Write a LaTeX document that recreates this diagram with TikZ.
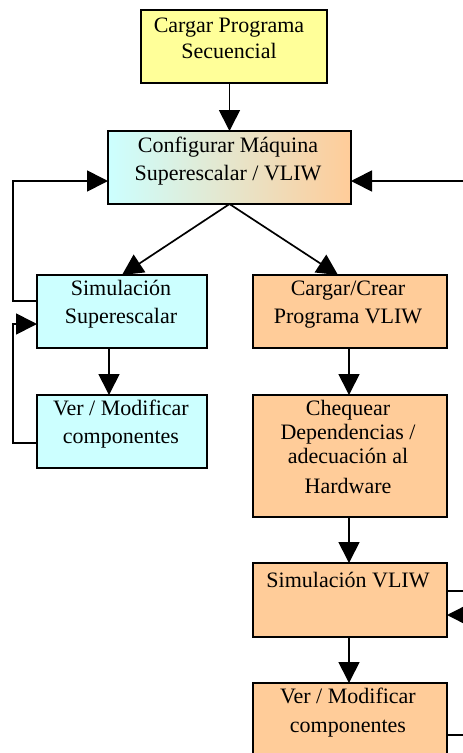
\documentclass[tikz,border=0pt]{standalone}
\usepackage{fontspec}
\setmainfont{Liberation Serif}
\usetikzlibrary{arrows.meta}
\definecolor{cyanbox}{HTML}{CCFFFF}
\definecolor{orangebox}{HTML}{FFCC99}
\definecolor{yellowbox}{HTML}{FFFF99}
\tikzset{
  boxbase/.style={draw=black, line width=1.9pt, inner sep=0pt, outer sep=0pt, rectangle},
  ybox/.style={boxbase, fill=yellowbox},
  cbox/.style={boxbase, fill=cyanbox},
  obox/.style={boxbase, fill=orangebox},
  gbox/.style={boxbase, left color=cyanbox, right color=orangebox},
  txt/.style={anchor=base, inner sep=0pt, font=\fontsize{22}{24}\selectfont},
  conn/.style={line width=1.7pt, -{Triangle[length=21pt,width=21pt]}},
  plain/.style={line width=1.7pt},
}
\begin{document}
\begin{tikzpicture}[x=1pt,y=-1pt]
\useasboundingbox (0,0) rectangle (463,753);
\clip (0,0) rectangle (463,753);
\fill[white] (0,0) rectangle (463,753);

% boxes
\node[ybox, minimum width=186pt, minimum height=73pt] (b1) at (234,46.5) {};
\node[gbox, minimum width=243pt, minimum height=73pt] (b2) at (229.5,167.5) {};
\node[cbox, minimum width=170pt, minimum height=73pt] (b3) at (122,311.5) {};
\node[cbox, minimum width=170pt, minimum height=73pt] (b4) at (122,431.5) {};
\node[obox, minimum width=194pt, minimum height=73pt] (b5) at (350,311.5) {};
\node[obox, minimum width=194pt, minimum height=122pt] (b6) at (350,456) {};
\node[obox, minimum width=194pt, minimum height=74pt] (b7) at (350,600) {};
\node[obox, minimum width=194pt, minimum height=87pt] (b8) at (350,726.5) {};

% texts
\node[txt] (t1a) at (229,32) {Cargar Programa};
\node[txt] (t1b) at (229,58) {Secuencial};
\node[txt] (t2a) at (228,152) {Configurar Máquina};
\node[txt] (t2b) at (228,180) {Superescalar / VLIW};
\node[txt] (t3a) at (121,295) {Simulación};
\node[txt] (t3b) at (121,323) {Superescalar};
\node[txt] (t4a) at (121,415) {Ver / Modificar};
\node[txt] (t4b) at (121,443) {componentes};
\node[txt] (t5a) at (348,295) {Cargar/Crear};
\node[txt] (t5b) at (348,323) {Programa VLIW};
\node[txt] (t6a) at (348,415) {Chequear};
\node[txt] (t6b) at (348,439) {Dependencias /};
\node[txt] (t6c) at (348,463) {adecuación al};
\node[txt] (t6d) at (348,493) {Hardware};
\node[txt] (t7a) at (348,587) {Simulación VLIW};
\node[txt] (t8a) at (348,703) {Ver / Modificar};
\node[txt] (t8b) at (348,732) {componentes};

% free ends on the right
\coordinate (r1) at (470,181);
\coordinate (r2) at (470,591);
\coordinate (r3) at (470,615);
\coordinate (r4) at (470,735);

% connectors
\draw[conn] ([xshift=-4.5pt]b1.south) -- (b2.north);
\draw[conn] (b2.south) -- (b3.north);
\draw[conn] (b2.south) -- ([xshift=-12pt]b5.north);
\draw[conn] ([yshift=10.5pt]b3.west) -- ++(-24,0) |- ([yshift=-13.5pt]b2.west);
\draw[conn] ([yshift=-11.5pt]b4.west) -- ++(-24,0) |- ([yshift=-12.5pt]b3.west);
\draw[conn] ([xshift=-13pt]b3.south) -- ([xshift=-13pt]b4.north);
\draw[conn] ([xshift=-1pt]b5.south) -- ([xshift=-1pt]b6.north);
\draw[conn] ([xshift=-1pt]b6.south) -- ([xshift=-1pt]b7.north);
\draw[conn] ([xshift=-1pt]b7.south) -- ([xshift=-1pt]b8.north);
\draw[conn] (r1) -- ([yshift=-13.5pt]b2.east);
\draw[plain] ([yshift=9pt]b7.east) -- (r2);
\draw[conn] (r3) -- ([yshift=-15pt]b7.east);
\draw[plain] ([yshift=-8.5pt]b8.east) -- (r4);
\end{tikzpicture}
\end{document}
